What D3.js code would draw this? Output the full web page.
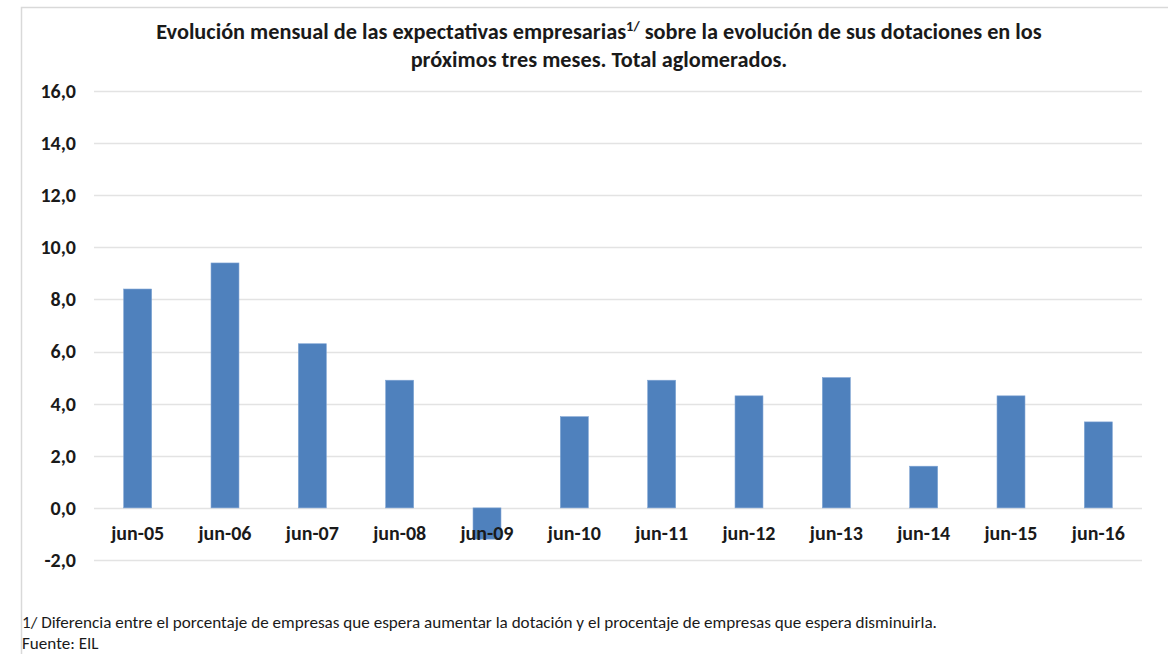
<!DOCTYPE html>
<html>
<head>
<meta charset="utf-8">
<script src="https://cdn.jsdelivr.net/npm/d3@7"></script>
<style>
  body { margin: 0; background: #fff; }
  svg { display: block; }
</style>
</head>
<body>
<div class="graph"></div>
<script>
// chart values
const categories = ['jun-05', 'jun-06', 'jun-07', 'jun-08', 'jun-09', 'jun-10',
  'jun-11', 'jun-12', 'jun-13', 'jun-14', 'jun-15', 'jun-16']
const values = [8.4, 9.4, 6.3, 4.9, -1.2, 3.5, 4.9, 4.3, 5.0, 1.6, 4.3, 3.3]
const yTicks = [-2, 0, 2, 4, 6, 8, 10, 12, 14, 16]

const titleLines = [
  ['Evolución mensual de las expectativas empresarias', '1/', ' sobre la evolución de sus dotaciones en los'],
  ['próximos tres meses. Total aglomerados.']
]
const notes = [
  '1/ Diferencia entre el porcentaje de empresas que espera aumentar la dotación y el procentaje de empresas que espera disminuirla.',
  'Fuente: EIL'
]

const width = 1168
const height = 654
const margin = { left: 94, right: 26, top: 91, bottom: 94 }
const fontFamily = "Carlito, 'Liberation Sans Narrow', 'Open Sans', sans-serif"

const svg = d3.select('.graph')
  .append('svg')
  .attr('width', width)
  .attr('height', height)
  .attr('font-family', fontFamily)

// outer frame (left and top edges only are visible)
svg.append('path')
  .attr('d', `M21.5,${height} V7.5 H${width}`)
  .attr('fill', 'none')
  .attr('stroke', '#d9d9d9')
  .attr('stroke-width', 1.5)

const x = d3.scaleBand()
  .domain(categories)
  .range([margin.left, width - margin.right])
  .paddingInner(0.68)
  .paddingOuter(0.34)

const y = d3.scaleLinear()
  .domain([-2, 16])
  .range([height - margin.bottom, margin.top])

// gridlines
svg.append('g')
  .selectAll('line')
  .data(yTicks)
  .join('line')
  .attr('x1', margin.left)
  .attr('x2', width - margin.right)
  .attr('y1', d => Math.round(y(d)) + 0.5)
  .attr('y2', d => Math.round(y(d)) + 0.5)
  .attr('stroke', '#e3e3e3')
  .attr('stroke-width', 1.3)

// y axis labels (comma decimal, plain hyphen for negatives)
const yAxis = svg.append('g')
  .attr('transform', `translate(${margin.left}, 0)`)
  .call(d3.axisLeft(y).tickValues(yTicks).tickSize(0).tickPadding(18)
    .tickFormat(d => d.toFixed(1).replace('.', ',')))
  .attr('font-family', fontFamily)
  .attr('font-size', 20)
yAxis.select('.domain').remove()
yAxis.selectAll('text')
  .attr('font-weight', 'bold')
  .attr('fill', '#1a1a1a')

// bars
svg.append('g')
  .selectAll('rect')
  .data(values)
  .join('rect')
  .attr('x', (d, i) => x(categories[i]))
  .attr('width', x.bandwidth())
  .attr('y', d => y(Math.max(0, d)))
  .attr('height', d => Math.abs(y(d) - y(0)))
  .attr('fill', '#4f81bd')
  .attr('stroke', '#7ea3d3')
  .attr('stroke-width', 0.6)

// x axis labels
const xAxis = svg.append('g')
  .attr('transform', `translate(0, ${y(0)})`)
  .call(d3.axisBottom(x).tickSize(0).tickPadding(18))
  .attr('font-family', fontFamily)
  .attr('font-size', 20)
xAxis.select('.domain').remove()
xAxis.selectAll('text')
  .attr('font-weight', 'bold')
  .attr('fill', '#1a1a1a')

// title
const title = svg.append('text')
  .attr('text-anchor', 'middle')
  .attr('font-size', 22.3)
  .attr('font-weight', 'bold')
  .attr('fill', '#1a1a1a')
titleLines.forEach((parts, i) => {
  const line = title.append('tspan')
    .attr('x', 599)
    .attr('y', 39 + i * 28)
  parts.forEach((p, j) => {
    const t = line.append('tspan').text(p)
    if (parts.length > 1 && j === 1) {
      t.attr('font-size', 14.5).attr('dy', -8)
    } else if (j === 2) {
      t.attr('dy', 8)
    }
  })
})

// footnotes
svg.append('g')
  .selectAll('text')
  .data(notes)
  .join('text')
  .attr('x', 22)
  .attr('y', (d, i) => 628 + i * 21)
  .attr('font-size', 17.1)
  .attr('fill', '#1a1a1a')
  .text(d => d)
</script>
</body>
</html>
